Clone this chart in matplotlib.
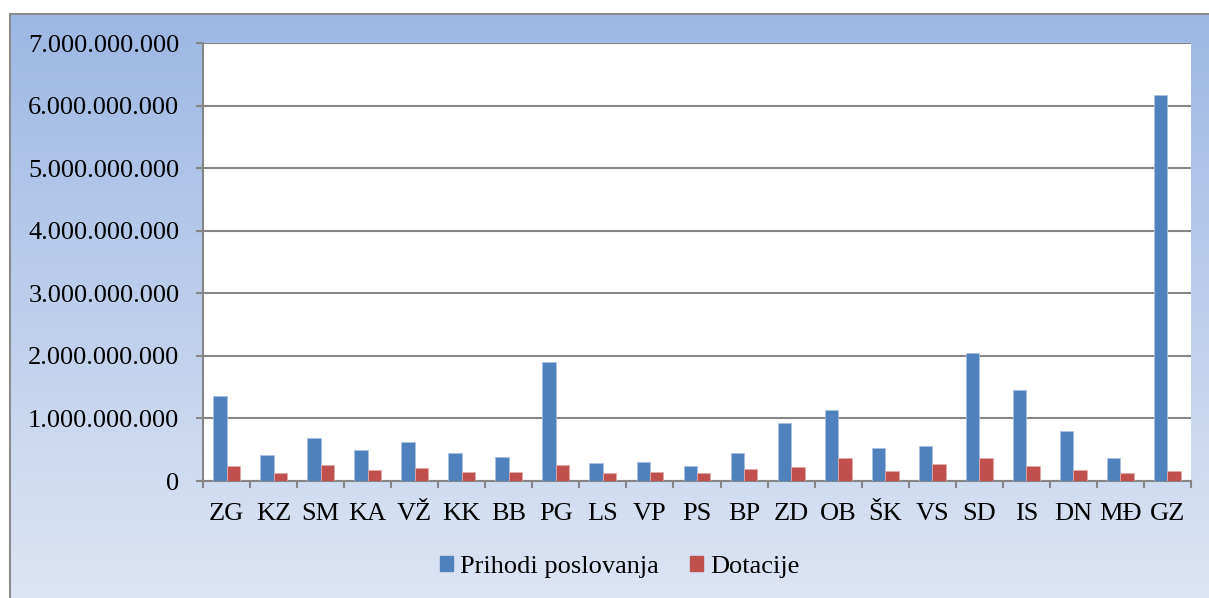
import numpy as np
import matplotlib
matplotlib.use("Agg")
import matplotlib.pyplot as plt
from matplotlib.patches import Patch

# zupanije
kategorije = ['ZG', 'KZ', 'SM', 'KA', 'VŽ', 'KK', 'BB', 'PG', 'LS', 'VP', 'PS',
              'BP', 'ZD', 'OB', 'ŠK', 'VS', 'SD', 'IS', 'DN', 'MĐ', 'GZ']

# vrijednosti u milijardama
prihodi = [1.355, 0.41, 0.68, 0.50, 0.63, 0.455, 0.38, 1.90, 0.295, 0.30, 0.243,
           0.44, 0.93, 1.14, 0.52, 0.56, 2.04, 1.457, 0.807, 0.364, 6.163]
dotacije = [0.236, 0.125, 0.26, 0.18, 0.20, 0.147, 0.15, 0.25, 0.135, 0.15, 0.125,
            0.195, 0.227, 0.364, 0.157, 0.268, 0.375, 0.232, 0.168, 0.125, 0.152]

y_ticks = [0, 1, 2, 3, 4, 5, 6, 7]

plt.rcParams['font.family'] = ['Liberation Serif', 'DejaVu Serif']

W, H = 1209, 598
fig = plt.figure(figsize=(W / 100, H / 100), dpi=100)
fig.patch.set_facecolor('white')

# pozadina s gradijentom
bg = fig.add_axes([0, 0, 1, 1], zorder=-1)
bg.axis('off')
top_c = np.array([157, 184, 228]) / 255
bot_c = np.array([221, 229, 244]) / 255
t = np.linspace(0, 1, 200)[:, None]
grad = (top_c * (1 - t) + bot_c * t)[:, None, :]
bg.imshow(grad, extent=[10, W + 5, H, 14], aspect='auto', interpolation='bilinear')
bg.plot([10, 10], [14, H], color='#8c8c8c', lw=1.5)
bg.plot([10, W], [14, 14], color='#8c8c8c', lw=1.5)
bg.set_xlim(0, W)
bg.set_ylim(H, 0)

# glavni graf
ax = fig.add_axes([203 / W, (H - 481) / H, 988 / W, 438 / H])
ax.set_facecolor('white')

x = np.arange(len(kategorije))
w = 0.285
ax.bar(x - w / 2, prihodi, w, color='#4F81BD', edgecolor='#a7bfe0', linewidth=0.6, zorder=3)
ax.bar(x + w / 2, dotacije, w, color='#C0504D', edgecolor='#e2a9a7', linewidth=0.6, zorder=3)

ax.set_xlim(-0.5, len(kategorije) - 0.5)
ax.set_ylim(0, 7)
ax.set_yticks(y_ticks)
ax.set_yticklabels(['0' if v == 0 else '{:,}'.format(v * 1000000000).replace(',', '.') for v in y_ticks])
ax.yaxis.grid(True, color='#868686', linewidth=1.5, zorder=1)
ax.set_axisbelow(True)

ax.set_xticks(x)
ax.set_xticklabels(kategorije)
ax.set_xticks(np.arange(-0.5, len(kategorije)), minor=True)
ax.tick_params(axis='x', which='major', length=0, pad=16, labelsize=19)
ax.tick_params(axis='x', which='minor', length=5, width=1.5, color='#868686', direction='out')
ax.tick_params(axis='y', length=5, width=1.5, color='#868686', pad=12, labelsize=19)

for s in ['top', 'right']:
    ax.spines[s].set_visible(False)
for s in ['left', 'bottom']:
    ax.spines[s].set_color('#868686')
    ax.spines[s].set_linewidth(1.5)

handles = [Patch(color='#4F81BD', label='Prihodi poslovanja'),
           Patch(color='#C0504D', label='Dotacije')]
fig.legend(handles=handles, loc='center', bbox_to_anchor=(619.5 / W, 1 - 567 / H),
           ncol=2, frameon=False, fontsize=19, handlelength=0.5, handleheight=0.5,
           handletextpad=0.25, columnspacing=1.2)

fig.savefig('out.png', dpi=100)
